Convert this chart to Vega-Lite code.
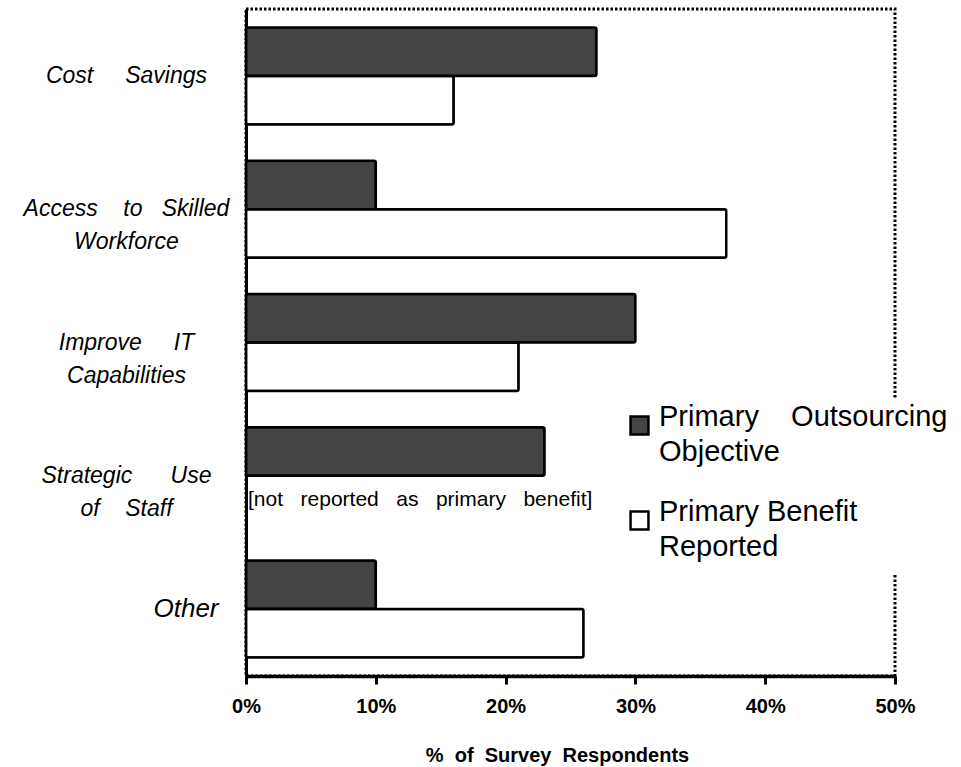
{
  "$schema": "https://vega.github.io/schema/vega-lite/v6.json",
  "autosize": "none",
  "width": 649,
  "height": 667,
  "padding": {"left": 246, "top": 9, "right": 66, "bottom": 91},
  "background": "white",
  "config": {
    "view": {"stroke": "black", "strokeWidth": 3, "strokeDash": [2.5, 2]},
    "font": "Liberation Sans"
  },
  "datasets": {
    "bars": [
      {"Category": "Cost Savings", "Series": "Primary Outsourcing Objective", "Value": 27},
      {"Category": "Cost Savings", "Series": "Primary Benefit Reported", "Value": 16},
      {"Category": "Access to Skilled Workforce", "Series": "Primary Outsourcing Objective", "Value": 10},
      {"Category": "Access to Skilled Workforce", "Series": "Primary Benefit Reported", "Value": 37},
      {"Category": "Improve IT Capabilities", "Series": "Primary Outsourcing Objective", "Value": 30},
      {"Category": "Improve IT Capabilities", "Series": "Primary Benefit Reported", "Value": 21},
      {"Category": "Strategic Use of Staff", "Series": "Primary Outsourcing Objective", "Value": 23},
      {"Category": "Other", "Series": "Primary Outsourcing Objective", "Value": 10},
      {"Category": "Other", "Series": "Primary Benefit Reported", "Value": 26}
    ],
    "notes": [
      {"Category": "Strategic Use of Staff", "Series": "Primary Benefit Reported", "Value": 0, "Note": "[not\u00a0\u00a0 reported\u00a0\u00a0 as\u00a0\u00a0 primary\u00a0\u00a0 benefit]"}
    ]
  },
  "encoding": {
    "y": {
      "field": "Category",
      "type": "nominal",
      "sort": ["Cost Savings", "Access to Skilled Workforce", "Improve IT Capabilities", "Strategic Use of Staff", "Other"],
      "scale": {"paddingInner": 0.272, "paddingOuter": 0.139},
      "axis": {
        "title": null,
        "domain": true,
        "domainColor": "black",
        "domainWidth": 3,
        "ticks": false,
        "labelFont": "Liberation Sans",
        "labelFontSize": {"condition": {"test": "datum.value == 'Other'", "value": 26}, "value": 23},
        "labelFontStyle": "italic",
        "labelColor": "black",
        "labelLineHeight": 33,
        "labelLimit": 300,
        "labelAlign": {"condition": {"test": "datum.value == 'Other'", "value": "right"}, "value": "center"},
        "labelPadding": {"condition": {"test": "datum.value == 'Other'", "value": 28}, "value": 120},
        "labelExpr": "datum.value == 'Cost Savings' ? 'Cost\u00a0\u00a0\u00a0\u00a0\u00a0Savings' : datum.value == 'Access to Skilled Workforce' ? ['Access\u00a0\u00a0\u00a0\u00a0to\u00a0\u00a0\u00a0Skilled', 'Workforce'] : datum.value == 'Improve IT Capabilities' ? ['Improve\u00a0\u00a0\u00a0\u00a0\u00a0IT', 'Capabilities'] : datum.value == 'Strategic Use of Staff' ? ['Strategic\u00a0\u00a0\u00a0\u00a0\u00a0\u00a0Use', 'of\u00a0\u00a0\u00a0\u00a0Staff'] : 'Other'",
        "encode": {
          "labels": {
            "update": {
              "dx": {"signal": "datum.value == 'Access to Skilled Workforce' ? -9 : datum.value == 'Improve IT Capabilities' ? 10 : 0"},
              "dy": {"signal": "datum.value == 'Cost Savings' ? 4 : 0"}
            }
          }
        }
      }
    },
    "yOffset": {
      "field": "Series",
      "type": "nominal",
      "scale": {"domain": ["Primary Outsourcing Objective", "Primary Benefit Reported"], "paddingInner": 0, "paddingOuter": 0}
    },
    "x": {
      "field": "Value",
      "type": "quantitative",
      "scale": {"domain": [0, 50], "nice": false},
      "axis": {
        "values": [0, 10, 20, 30, 40, 50],
        "grid": false,
        "domainColor": "black",
        "domainWidth": 3.5,
        "tickColor": "black",
        "tickWidth": 3,
        "tickSize": 8,
        "labelFlush": false,
        "labelExpr": "datum.value + '%'",
        "labelFontSize": 20,
        "labelFontWeight": "bold",
        "labelColor": "black",
        "labelPadding": 12,
        "title": "%\u00a0 of\u00a0 Survey\u00a0 Respondents",
        "titleFontSize": 20,
        "titleFontWeight": "bold",
        "titleColor": "black",
        "titlePadding": 29,
        "titleX": 311
      }
    }
  },
  "layer": [
    {
      "data": {"name": "bars"},
      "mark": {"type": "bar", "stroke": "black", "strokeWidth": 2.5, "cornerRadius": 2},
      "encoding": {
        "color": {
          "field": "Series",
          "type": "nominal",
          "scale": {"domain": ["Primary Outsourcing Objective", "Primary Benefit Reported"], "range": ["#444444", "#ffffff"]},
          "legend": {
            "title": null,
            "orient": "none",
            "legendX": 367,
            "legendY": 390,
            "symbolType": "square",
            "symbolSize": 320,
            "symbolStrokeColor": "black",
            "symbolStrokeWidth": 2.5,
            "symbolOpacity": 1,
            "labelFontSize": 29,
            "labelColor": "black",
            "labelLimit": 400,
            "labelOffset": 5,
            "labelBaseline": "alphabetic",
            "rowPadding": 30,
            "fillColor": "white",
            "padding": 12,
            "labelExpr": "datum.label == 'Primary Outsourcing Objective' ? ['Primary\u00a0\u00a0\u00a0\u00a0Outsourcing', 'Objective'] : ['Primary Benefit', 'Reported']",
            "encode": {
              "labels": {"update": {"lineHeight": {"value": 35}}}
            }
          }
        }
      }
    },
    {
      "data": {"name": "notes"},
      "mark": {"type": "text", "align": "left", "baseline": "middle", "dx": 2, "fontSize": 21, "font": "Liberation Sans", "color": "black"},
      "encoding": {
        "text": {"field": "Note", "type": "nominal"}
      }
    }
  ]
}
